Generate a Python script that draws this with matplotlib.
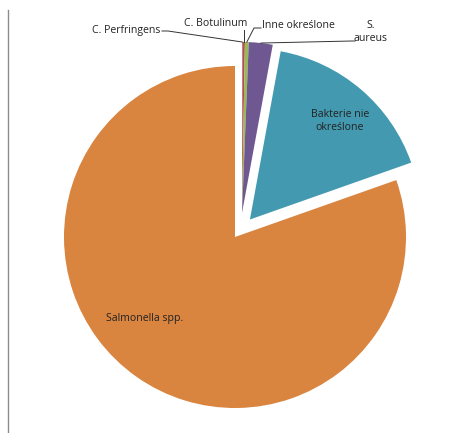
import numpy as np
import matplotlib
matplotlib.use("Agg")
import matplotlib.pyplot as plt
from matplotlib.lines import Line2D

labels = ["C. Perfringens", "C. Botulinum", "Inne określone", "S.\naureus",
          "Bakterie nie\nokreślone", "Salmonella spp."]
values = [0.05, 0.22, 0.36, 2.25, 16.72, 80.4]
colors = ["#4A7EBB", "#BE4B48", "#98B954", "#6F5891", "#4399AF", "#D9843F"]
explode = [24, 24, 24, 24, 23, 0]

plt.rcParams['font.family'] = ['Open Sans', 'DejaVu Sans']

fig = plt.figure(figsize=(4.7, 4.33), dpi=100)
ax = fig.add_axes([0, 0, 1, 1])

cx, cy, r = 235, 196, 171
wedges, _ = ax.pie(values, colors=colors, explode=explode, startangle=90,
                   counterclock=False, center=(cx, cy), radius=r,
                   wedgeprops=dict(linewidth=0), frame=True)
# the small slivers are pulled out a little to the right as well
for w in wedges[:4]:
    w.set_center((cx + 7, cy + 24))
ax.set_xlim(0, 470)
ax.set_ylim(0, 433)
ax.set_aspect('equal')
ax.axis('off')

fs = 7.6
tc = '#222222'
# labels inside
ax.text(145, 433 - 318, labels[5], fontsize=fs, ha='center', va='center', color=tc)
ax.text(340, 433 - 121, labels[4], fontsize=fs, ha='center', va='center',
        color=tc, linespacing=1.25)


def outer_point(w):
    t = np.deg2rad((w.theta1 + w.theta2) / 2)
    return w.center[0] + w.r * np.cos(t), w.center[1] + w.r * np.sin(t)

lc = '#333333'
# C. Perfringens
px, py = outer_point(wedges[0])
ax.text(160, 433 - 30, labels[0], fontsize=fs, ha='right', va='center', color=tc)
ax.plot([162, 168, px], [433 - 31, 433 - 31, py], color=lc, lw=0.7)
# C. Botulinum
px, py = outer_point(wedges[1])
ax.text(216, 433 - 24, labels[1], fontsize=fs, ha='center', va='center', color=tc)
ax.plot([px, px], [433 - 30, py], color=lc, lw=0.7)
# Inne określone
px, py = outer_point(wedges[2])
ax.text(262, 433 - 26, labels[2], fontsize=fs, ha='left', va='center', color=tc)
ax.plot([261, 254, px], [433 - 28, 433 - 28, py], color=lc, lw=0.7)
# S. aureus
px, py = outer_point(wedges[3])
ax.text(371, 433 - 32, labels[3], fontsize=fs, ha='center', va='center',
        color=tc, linespacing=1.3)
ax.plot([355, 352, px], [433 - 41, 433 - 41, py], color=lc, lw=0.7)

fig.add_artist(Line2D([8 / 470, 8 / 470], [0, 1 - 10 / 433],
                      transform=fig.transFigure, color='#8c8c8c', lw=1))

fig.savefig("out.png", dpi=100)
